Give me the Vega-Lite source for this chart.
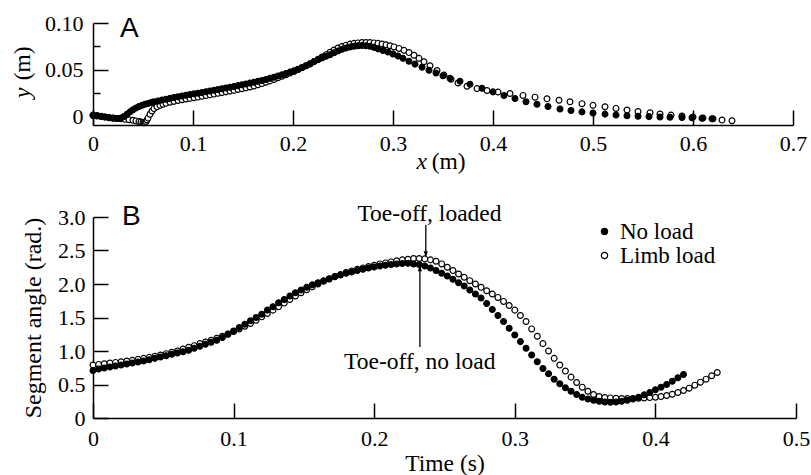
{
  "$schema": "https://vega.github.io/schema/vega-lite/v6.json",
  "padding": {"left": 11, "top": 12, "right": 5, "bottom": 0},
  "spacing": 28,
  "datasets": {
    "traj": [
      {"x":0.000,"y":0.0005,"load":"Limb load"},{"x":0.004,"y":0.0000,"load":"Limb load"},{"x":0.008,"y":-0.0005,"load":"Limb load"},{"x":0.012,"y":-0.0010,"load":"Limb load"},
      {"x":0.016,"y":-0.0015,"load":"Limb load"},{"x":0.020,"y":-0.0020,"load":"Limb load"},{"x":0.024,"y":-0.0025,"load":"Limb load"},{"x":0.028,"y":-0.0030,"load":"Limb load"},
      {"x":0.032,"y":-0.0035,"load":"Limb load"},{"x":0.036,"y":-0.0040,"load":"Limb load"},{"x":0.040,"y":-0.0046,"load":"Limb load"},{"x":0.043,"y":-0.0052,"load":"Limb load"},
      {"x":0.046,"y":-0.0058,"load":"Limb load"},{"x":0.048,"y":-0.0064,"load":"Limb load"},{"x":0.050,"y":-0.0070,"load":"Limb load"},{"x":0.051,"y":-0.0072,"load":"Limb load"},
      {"x":0.052,"y":-0.0068,"load":"Limb load"},{"x":0.053,"y":-0.0058,"load":"Limb load"},{"x":0.054,"y":-0.0042,"load":"Limb load"},{"x":0.055,"y":-0.0022,"load":"Limb load"},
      {"x":0.057,"y":0.0020,"load":"Limb load"},{"x":0.059,"y":0.0055,"load":"Limb load"},{"x":0.061,"y":0.0080,"load":"Limb load"},{"x":0.064,"y":0.0100,"load":"Limb load"},
      {"x":0.067,"y":0.0115,"load":"Limb load"},{"x":0.070,"y":0.0127,"load":"Limb load"},{"x":0.073,"y":0.0137,"load":"Limb load"},{"x":0.077,"y":0.0148,"load":"Limb load"},
      {"x":0.081,"y":0.0158,"load":"Limb load"},{"x":0.085,"y":0.0167,"load":"Limb load"},{"x":0.089,"y":0.0175,"load":"Limb load"},{"x":0.093,"y":0.0183,"load":"Limb load"},
      {"x":0.097,"y":0.0190,"load":"Limb load"},{"x":0.101,"y":0.0197,"load":"Limb load"},{"x":0.105,"y":0.0204,"load":"Limb load"},{"x":0.109,"y":0.0212,"load":"Limb load"},
      {"x":0.113,"y":0.0220,"load":"Limb load"},{"x":0.117,"y":0.0228,"load":"Limb load"},{"x":0.121,"y":0.0236,"load":"Limb load"},{"x":0.125,"y":0.0244,"load":"Limb load"},
      {"x":0.129,"y":0.0252,"load":"Limb load"},{"x":0.133,"y":0.0260,"load":"Limb load"},{"x":0.137,"y":0.0268,"load":"Limb load"},{"x":0.141,"y":0.0276,"load":"Limb load"},
      {"x":0.145,"y":0.0285,"load":"Limb load"},{"x":0.149,"y":0.0294,"load":"Limb load"},{"x":0.153,"y":0.0303,"load":"Limb load"},{"x":0.157,"y":0.0313,"load":"Limb load"},
      {"x":0.161,"y":0.0324,"load":"Limb load"},{"x":0.165,"y":0.0336,"load":"Limb load"},{"x":0.169,"y":0.0349,"load":"Limb load"},{"x":0.173,"y":0.0363,"load":"Limb load"},
      {"x":0.177,"y":0.0378,"load":"Limb load"},{"x":0.181,"y":0.0394,"load":"Limb load"},{"x":0.185,"y":0.0411,"load":"Limb load"},{"x":0.189,"y":0.0428,"load":"Limb load"},
      {"x":0.193,"y":0.0445,"load":"Limb load"},{"x":0.197,"y":0.0462,"load":"Limb load"},{"x":0.201,"y":0.0480,"load":"Limb load"},{"x":0.205,"y":0.0499,"load":"Limb load"},
      {"x":0.209,"y":0.0519,"load":"Limb load"},{"x":0.213,"y":0.0540,"load":"Limb load"},{"x":0.217,"y":0.0562,"load":"Limb load"},{"x":0.221,"y":0.0585,"load":"Limb load"},
      {"x":0.225,"y":0.0609,"load":"Limb load"},{"x":0.229,"y":0.0634,"load":"Limb load"},{"x":0.233,"y":0.0660,"load":"Limb load"},{"x":0.237,"y":0.0686,"load":"Limb load"},
      {"x":0.241,"y":0.0710,"load":"Limb load"},{"x":0.245,"y":0.0731,"load":"Limb load"},{"x":0.249,"y":0.0748,"load":"Limb load"},{"x":0.253,"y":0.0762,"load":"Limb load"},
      {"x":0.257,"y":0.0773,"load":"Limb load"},{"x":0.261,"y":0.0781,"load":"Limb load"},{"x":0.265,"y":0.0786,"load":"Limb load"},{"x":0.269,"y":0.0789,"load":"Limb load"},
      {"x":0.273,"y":0.0790,"load":"Limb load"},{"x":0.277,"y":0.0789,"load":"Limb load"},{"x":0.281,"y":0.0786,"load":"Limb load"},{"x":0.285,"y":0.0781,"load":"Limb load"},
      {"x":0.289,"y":0.0774,"load":"Limb load"},{"x":0.293,"y":0.0765,"load":"Limb load"},{"x":0.297,"y":0.0755,"load":"Limb load"},{"x":0.301,"y":0.0743,"load":"Limb load"},
      {"x":0.306,"y":0.0727,"load":"Limb load"},{"x":0.311,"y":0.0706,"load":"Limb load"},{"x":0.316,"y":0.0682,"load":"Limb load"},{"x":0.321,"y":0.0653,"load":"Limb load"},
      {"x":0.326,"y":0.0620,"load":"Limb load"},{"x":0.331,"y":0.0583,"load":"Limb load"},{"x":0.337,"y":0.0540,"load":"Limb load"},{"x":0.344,"y":0.0490,"load":"Limb load"},
      {"x":0.351,"y":0.0440,"load":"Limb load"},{"x":0.358,"y":0.0395,"load":"Limb load"},{"x":0.365,"y":0.0355,"load":"Limb load"},{"x":0.374,"y":0.0320,"load":"Limb load"},
      {"x":0.384,"y":0.0295,"load":"Limb load"},{"x":0.394,"y":0.0275,"load":"Limb load"},{"x":0.405,"y":0.0258,"load":"Limb load"},{"x":0.417,"y":0.0243,"load":"Limb load"},
      {"x":0.430,"y":0.0222,"load":"Limb load"},{"x":0.442,"y":0.0203,"load":"Limb load"},{"x":0.454,"y":0.0185,"load":"Limb load"},{"x":0.466,"y":0.0170,"load":"Limb load"},
      {"x":0.477,"y":0.0153,"load":"Limb load"},{"x":0.489,"y":0.0133,"load":"Limb load"},{"x":0.500,"y":0.0115,"load":"Limb load"},{"x":0.512,"y":0.0100,"load":"Limb load"},
      {"x":0.523,"y":0.0082,"load":"Limb load"},{"x":0.534,"y":0.0064,"load":"Limb load"},{"x":0.545,"y":0.0048,"load":"Limb load"},{"x":0.557,"y":0.0036,"load":"Limb load"},
      {"x":0.567,"y":0.0022,"load":"Limb load"},{"x":0.578,"y":0.0010,"load":"Limb load"},{"x":0.589,"y":0.0000,"load":"Limb load"},{"x":0.600,"y":-0.0010,"load":"Limb load"},
      {"x":0.610,"y":-0.0020,"load":"Limb load"},{"x":0.620,"y":-0.0030,"load":"Limb load"},{"x":0.629,"y":-0.0043,"load":"Limb load"},{"x":0.639,"y":-0.0050,"load":"Limb load"},
      {"x":0.000,"y":0.0010,"load":"No load"},{"x":0.004,"y":0.0005,"load":"No load"},{"x":0.008,"y":-0.0002,"load":"No load"},{"x":0.012,"y":-0.0010,"load":"No load"},
      {"x":0.016,"y":-0.0018,"load":"No load"},{"x":0.020,"y":-0.0024,"load":"No load"},{"x":0.024,"y":-0.0027,"load":"No load"},{"x":0.028,"y":-0.0020,"load":"No load"},
      {"x":0.031,"y":-0.0005,"load":"No load"},{"x":0.034,"y":0.0020,"load":"No load"},{"x":0.037,"y":0.0045,"load":"No load"},{"x":0.040,"y":0.0068,"load":"No load"},
      {"x":0.043,"y":0.0087,"load":"No load"},{"x":0.046,"y":0.0102,"load":"No load"},{"x":0.049,"y":0.0115,"load":"No load"},{"x":0.052,"y":0.0126,"load":"No load"},
      {"x":0.055,"y":0.0136,"load":"No load"},{"x":0.058,"y":0.0145,"load":"No load"},{"x":0.061,"y":0.0153,"load":"No load"},{"x":0.065,"y":0.0163,"load":"No load"},
      {"x":0.069,"y":0.0172,"load":"No load"},{"x":0.073,"y":0.0181,"load":"No load"},{"x":0.077,"y":0.0190,"load":"No load"},{"x":0.081,"y":0.0199,"load":"No load"},
      {"x":0.085,"y":0.0207,"load":"No load"},{"x":0.089,"y":0.0215,"load":"No load"},{"x":0.093,"y":0.0223,"load":"No load"},{"x":0.097,"y":0.0231,"load":"No load"},
      {"x":0.101,"y":0.0239,"load":"No load"},{"x":0.105,"y":0.0246,"load":"No load"},{"x":0.109,"y":0.0254,"load":"No load"},{"x":0.113,"y":0.0262,"load":"No load"},
      {"x":0.117,"y":0.0270,"load":"No load"},{"x":0.121,"y":0.0278,"load":"No load"},{"x":0.125,"y":0.0286,"load":"No load"},{"x":0.129,"y":0.0294,"load":"No load"},
      {"x":0.133,"y":0.0302,"load":"No load"},{"x":0.137,"y":0.0310,"load":"No load"},{"x":0.141,"y":0.0318,"load":"No load"},{"x":0.145,"y":0.0327,"load":"No load"},
      {"x":0.149,"y":0.0336,"load":"No load"},{"x":0.153,"y":0.0345,"load":"No load"},{"x":0.157,"y":0.0354,"load":"No load"},{"x":0.161,"y":0.0363,"load":"No load"},
      {"x":0.165,"y":0.0373,"load":"No load"},{"x":0.169,"y":0.0383,"load":"No load"},{"x":0.173,"y":0.0394,"load":"No load"},{"x":0.177,"y":0.0405,"load":"No load"},
      {"x":0.181,"y":0.0417,"load":"No load"},{"x":0.185,"y":0.0430,"load":"No load"},{"x":0.189,"y":0.0443,"load":"No load"},{"x":0.193,"y":0.0457,"load":"No load"},
      {"x":0.197,"y":0.0472,"load":"No load"},{"x":0.201,"y":0.0488,"load":"No load"},{"x":0.205,"y":0.0504,"load":"No load"},{"x":0.209,"y":0.0521,"load":"No load"},
      {"x":0.213,"y":0.0540,"load":"No load"},{"x":0.217,"y":0.0560,"load":"No load"},{"x":0.221,"y":0.0585,"load":"No load"},{"x":0.225,"y":0.0605,"load":"No load"},
      {"x":0.229,"y":0.0625,"load":"No load"},{"x":0.233,"y":0.0643,"load":"No load"},{"x":0.237,"y":0.0660,"load":"No load"},{"x":0.241,"y":0.0680,"load":"No load"},
      {"x":0.245,"y":0.0700,"load":"No load"},{"x":0.249,"y":0.0718,"load":"No load"},{"x":0.253,"y":0.0732,"load":"No load"},{"x":0.257,"y":0.0743,"load":"No load"},
      {"x":0.261,"y":0.0751,"load":"No load"},{"x":0.265,"y":0.0756,"load":"No load"},{"x":0.269,"y":0.0758,"load":"No load"},{"x":0.273,"y":0.0756,"load":"No load"},
      {"x":0.277,"y":0.0750,"load":"No load"},{"x":0.281,"y":0.0738,"load":"No load"},{"x":0.285,"y":0.0722,"load":"No load"},{"x":0.290,"y":0.0705,"load":"No load"},
      {"x":0.295,"y":0.0688,"load":"No load"},{"x":0.300,"y":0.0667,"load":"No load"},{"x":0.305,"y":0.0645,"load":"No load"},{"x":0.310,"y":0.0620,"load":"No load"},
      {"x":0.316,"y":0.0590,"load":"No load"},{"x":0.322,"y":0.0558,"load":"No load"},{"x":0.329,"y":0.0525,"load":"No load"},{"x":0.336,"y":0.0492,"load":"No load"},
      {"x":0.343,"y":0.0462,"load":"No load"},{"x":0.350,"y":0.0434,"load":"No load"},{"x":0.357,"y":0.0405,"load":"No load"},{"x":0.367,"y":0.0375,"load":"No load"},
      {"x":0.377,"y":0.0343,"load":"No load"},{"x":0.389,"y":0.0300,"load":"No load"},{"x":0.400,"y":0.0260,"load":"No load"},{"x":0.411,"y":0.0222,"load":"No load"},
      {"x":0.422,"y":0.0188,"load":"No load"},{"x":0.433,"y":0.0153,"load":"No load"},{"x":0.444,"y":0.0128,"load":"No load"},{"x":0.455,"y":0.0102,"load":"No load"},
      {"x":0.467,"y":0.0076,"load":"No load"},{"x":0.478,"y":0.0060,"load":"No load"},{"x":0.489,"y":0.0045,"load":"No load"},{"x":0.500,"y":0.0034,"load":"No load"},
      {"x":0.512,"y":0.0021,"load":"No load"},{"x":0.523,"y":0.0011,"load":"No load"},{"x":0.534,"y":0.0004,"load":"No load"},{"x":0.545,"y":-0.0002,"load":"No load"},
      {"x":0.556,"y":-0.0006,"load":"No load"},{"x":0.567,"y":-0.0009,"load":"No load"},{"x":0.577,"y":-0.0012,"load":"No load"},{"x":0.589,"y":-0.0015,"load":"No load"},
      {"x":0.599,"y":-0.0018,"load":"No load"},{"x":0.609,"y":-0.0024,"load":"No load"},{"x":0.619,"y":-0.0030,"load":"No load"}
    ],
    "angle": [
      {"t":0.000,"a":0.79,"load":"Limb load"},{"t":0.004,"a":0.80,"load":"Limb load"},{"t":0.008,"a":0.81,"load":"Limb load"},{"t":0.012,"a":0.82,"load":"Limb load"},
      {"t":0.016,"a":0.83,"load":"Limb load"},{"t":0.020,"a":0.84,"load":"Limb load"},{"t":0.024,"a":0.85,"load":"Limb load"},{"t":0.028,"a":0.86,"load":"Limb load"},
      {"t":0.032,"a":0.875,"load":"Limb load"},{"t":0.036,"a":0.89,"load":"Limb load"},{"t":0.040,"a":0.905,"load":"Limb load"},{"t":0.044,"a":0.92,"load":"Limb load"},
      {"t":0.048,"a":0.94,"load":"Limb load"},{"t":0.052,"a":0.96,"load":"Limb load"},{"t":0.056,"a":0.98,"load":"Limb load"},{"t":0.060,"a":1.00,"load":"Limb load"},
      {"t":0.064,"a":1.03,"load":"Limb load"},{"t":0.068,"a":1.055,"load":"Limb load"},{"t":0.072,"a":1.08,"load":"Limb load"},{"t":0.076,"a":1.11,"load":"Limb load"},
      {"t":0.080,"a":1.135,"load":"Limb load"},{"t":0.084,"a":1.16,"load":"Limb load"},{"t":0.088,"a":1.19,"load":"Limb load"},{"t":0.092,"a":1.22,"load":"Limb load"},
      {"t":0.096,"a":1.255,"load":"Limb load"},{"t":0.100,"a":1.29,"load":"Limb load"},{"t":0.104,"a":1.33,"load":"Limb load"},{"t":0.108,"a":1.37,"load":"Limb load"},
      {"t":0.112,"a":1.41,"load":"Limb load"},{"t":0.116,"a":1.46,"load":"Limb load"},{"t":0.120,"a":1.51,"load":"Limb load"},{"t":0.124,"a":1.56,"load":"Limb load"},
      {"t":0.128,"a":1.61,"load":"Limb load"},{"t":0.132,"a":1.66,"load":"Limb load"},{"t":0.136,"a":1.715,"load":"Limb load"},{"t":0.140,"a":1.77,"load":"Limb load"},
      {"t":0.144,"a":1.82,"load":"Limb load"},{"t":0.148,"a":1.87,"load":"Limb load"},{"t":0.152,"a":1.915,"load":"Limb load"},{"t":0.156,"a":1.96,"load":"Limb load"},
      {"t":0.160,"a":2.00,"load":"Limb load"},{"t":0.164,"a":2.04,"load":"Limb load"},{"t":0.168,"a":2.075,"load":"Limb load"},{"t":0.172,"a":2.11,"load":"Limb load"},
      {"t":0.176,"a":2.14,"load":"Limb load"},{"t":0.180,"a":2.17,"load":"Limb load"},{"t":0.184,"a":2.195,"load":"Limb load"},{"t":0.188,"a":2.22,"load":"Limb load"},
      {"t":0.192,"a":2.24,"load":"Limb load"},{"t":0.196,"a":2.26,"load":"Limb load"},{"t":0.200,"a":2.28,"load":"Limb load"},{"t":0.204,"a":2.30,"load":"Limb load"},
      {"t":0.208,"a":2.315,"load":"Limb load"},{"t":0.212,"a":2.33,"load":"Limb load"},{"t":0.216,"a":2.345,"load":"Limb load"},{"t":0.220,"a":2.36,"load":"Limb load"},
      {"t":0.224,"a":2.37,"load":"Limb load"},{"t":0.228,"a":2.38,"load":"Limb load"},{"t":0.232,"a":2.38,"load":"Limb load"},{"t":0.236,"a":2.375,"load":"Limb load"},
      {"t":0.240,"a":2.36,"load":"Limb load"},{"t":0.244,"a":2.34,"load":"Limb load"},{"t":0.248,"a":2.30,"load":"Limb load"},{"t":0.252,"a":2.25,"load":"Limb load"},
      {"t":0.256,"a":2.20,"load":"Limb load"},{"t":0.260,"a":2.15,"load":"Limb load"},{"t":0.264,"a":2.10,"load":"Limb load"},{"t":0.268,"a":2.05,"load":"Limb load"},
      {"t":0.272,"a":2.00,"load":"Limb load"},{"t":0.276,"a":1.95,"load":"Limb load"},{"t":0.280,"a":1.90,"load":"Limb load"},{"t":0.284,"a":1.85,"load":"Limb load"},
      {"t":0.288,"a":1.80,"load":"Limb load"},{"t":0.292,"a":1.74,"load":"Limb load"},{"t":0.296,"a":1.68,"load":"Limb load"},{"t":0.300,"a":1.61,"load":"Limb load"},
      {"t":0.304,"a":1.53,"load":"Limb load"},{"t":0.308,"a":1.44,"load":"Limb load"},{"t":0.312,"a":1.33,"load":"Limb load"},{"t":0.316,"a":1.22,"load":"Limb load"},
      {"t":0.320,"a":1.11,"load":"Limb load"},{"t":0.324,"a":1.00,"load":"Limb load"},{"t":0.328,"a":0.89,"load":"Limb load"},{"t":0.332,"a":0.79,"load":"Limb load"},
      {"t":0.336,"a":0.70,"load":"Limb load"},{"t":0.340,"a":0.61,"load":"Limb load"},{"t":0.344,"a":0.53,"load":"Limb load"},{"t":0.348,"a":0.46,"load":"Limb load"},
      {"t":0.352,"a":0.40,"load":"Limb load"},{"t":0.356,"a":0.35,"load":"Limb load"},{"t":0.360,"a":0.32,"load":"Limb load"},{"t":0.364,"a":0.305,"load":"Limb load"},
      {"t":0.368,"a":0.30,"load":"Limb load"},{"t":0.372,"a":0.295,"load":"Limb load"},{"t":0.376,"a":0.29,"load":"Limb load"},{"t":0.380,"a":0.29,"load":"Limb load"},
      {"t":0.384,"a":0.29,"load":"Limb load"},{"t":0.388,"a":0.295,"load":"Limb load"},{"t":0.392,"a":0.30,"load":"Limb load"},{"t":0.396,"a":0.305,"load":"Limb load"},
      {"t":0.400,"a":0.31,"load":"Limb load"},{"t":0.404,"a":0.32,"load":"Limb load"},{"t":0.408,"a":0.335,"load":"Limb load"},{"t":0.412,"a":0.355,"load":"Limb load"},
      {"t":0.416,"a":0.38,"load":"Limb load"},{"t":0.420,"a":0.41,"load":"Limb load"},{"t":0.424,"a":0.445,"load":"Limb load"},{"t":0.428,"a":0.49,"load":"Limb load"},
      {"t":0.432,"a":0.535,"load":"Limb load"},{"t":0.436,"a":0.58,"load":"Limb load"},{"t":0.440,"a":0.63,"load":"Limb load"},{"t":0.444,"a":0.68,"load":"Limb load"},
      {"t":0.000,"a":0.71,"load":"No load"},{"t":0.004,"a":0.73,"load":"No load"},{"t":0.008,"a":0.745,"load":"No load"},{"t":0.012,"a":0.76,"load":"No load"},
      {"t":0.016,"a":0.775,"load":"No load"},{"t":0.020,"a":0.79,"load":"No load"},{"t":0.024,"a":0.805,"load":"No load"},{"t":0.028,"a":0.82,"load":"No load"},
      {"t":0.032,"a":0.835,"load":"No load"},{"t":0.036,"a":0.85,"load":"No load"},{"t":0.040,"a":0.87,"load":"No load"},{"t":0.044,"a":0.89,"load":"No load"},
      {"t":0.048,"a":0.91,"load":"No load"},{"t":0.052,"a":0.93,"load":"No load"},{"t":0.056,"a":0.95,"load":"No load"},{"t":0.060,"a":0.97,"load":"No load"},
      {"t":0.064,"a":0.99,"load":"No load"},{"t":0.068,"a":1.01,"load":"No load"},{"t":0.072,"a":1.04,"load":"No load"},{"t":0.076,"a":1.07,"load":"No load"},
      {"t":0.080,"a":1.10,"load":"No load"},{"t":0.084,"a":1.13,"load":"No load"},{"t":0.088,"a":1.16,"load":"No load"},{"t":0.092,"a":1.20,"load":"No load"},
      {"t":0.096,"a":1.25,"load":"No load"},{"t":0.100,"a":1.30,"load":"No load"},{"t":0.104,"a":1.35,"load":"No load"},{"t":0.108,"a":1.40,"load":"No load"},
      {"t":0.112,"a":1.45,"load":"No load"},{"t":0.116,"a":1.50,"load":"No load"},{"t":0.120,"a":1.55,"load":"No load"},{"t":0.124,"a":1.61,"load":"No load"},
      {"t":0.128,"a":1.66,"load":"No load"},{"t":0.132,"a":1.72,"load":"No load"},{"t":0.136,"a":1.77,"load":"No load"},{"t":0.140,"a":1.82,"load":"No load"},
      {"t":0.144,"a":1.87,"load":"No load"},{"t":0.148,"a":1.91,"load":"No load"},{"t":0.152,"a":1.95,"load":"No load"},{"t":0.156,"a":1.99,"load":"No load"},
      {"t":0.160,"a":2.02,"load":"No load"},{"t":0.164,"a":2.05,"load":"No load"},{"t":0.168,"a":2.08,"load":"No load"},{"t":0.172,"a":2.11,"load":"No load"},
      {"t":0.176,"a":2.135,"load":"No load"},{"t":0.180,"a":2.16,"load":"No load"},{"t":0.184,"a":2.18,"load":"No load"},{"t":0.188,"a":2.20,"load":"No load"},
      {"t":0.192,"a":2.22,"load":"No load"},{"t":0.196,"a":2.24,"load":"No load"},{"t":0.200,"a":2.255,"load":"No load"},{"t":0.204,"a":2.27,"load":"No load"},
      {"t":0.208,"a":2.28,"load":"No load"},{"t":0.212,"a":2.29,"load":"No load"},{"t":0.216,"a":2.30,"load":"No load"},{"t":0.220,"a":2.305,"load":"No load"},
      {"t":0.224,"a":2.31,"load":"No load"},{"t":0.228,"a":2.30,"load":"No load"},{"t":0.232,"a":2.29,"load":"No load"},{"t":0.236,"a":2.27,"load":"No load"},
      {"t":0.240,"a":2.24,"load":"No load"},{"t":0.244,"a":2.20,"load":"No load"},{"t":0.248,"a":2.16,"load":"No load"},{"t":0.252,"a":2.12,"load":"No load"},
      {"t":0.256,"a":2.07,"load":"No load"},{"t":0.260,"a":2.02,"load":"No load"},{"t":0.264,"a":1.97,"load":"No load"},{"t":0.268,"a":1.91,"load":"No load"},
      {"t":0.272,"a":1.85,"load":"No load"},{"t":0.276,"a":1.79,"load":"No load"},{"t":0.280,"a":1.71,"load":"No load"},{"t":0.284,"a":1.62,"load":"No load"},
      {"t":0.288,"a":1.53,"load":"No load"},{"t":0.292,"a":1.44,"load":"No load"},{"t":0.296,"a":1.34,"load":"No load"},{"t":0.300,"a":1.24,"load":"No load"},
      {"t":0.304,"a":1.14,"load":"No load"},{"t":0.308,"a":1.04,"load":"No load"},{"t":0.312,"a":0.94,"load":"No load"},{"t":0.316,"a":0.84,"load":"No load"},
      {"t":0.320,"a":0.74,"load":"No load"},{"t":0.324,"a":0.66,"load":"No load"},{"t":0.328,"a":0.58,"load":"No load"},{"t":0.332,"a":0.51,"load":"No load"},
      {"t":0.336,"a":0.45,"load":"No load"},{"t":0.340,"a":0.40,"load":"No load"},{"t":0.344,"a":0.35,"load":"No load"},{"t":0.348,"a":0.31,"load":"No load"},
      {"t":0.352,"a":0.285,"load":"No load"},{"t":0.356,"a":0.265,"load":"No load"},{"t":0.360,"a":0.25,"load":"No load"},{"t":0.364,"a":0.24,"load":"No load"},
      {"t":0.368,"a":0.235,"load":"No load"},{"t":0.372,"a":0.24,"load":"No load"},{"t":0.376,"a":0.25,"load":"No load"},{"t":0.380,"a":0.265,"load":"No load"},
      {"t":0.384,"a":0.285,"load":"No load"},{"t":0.388,"a":0.31,"load":"No load"},{"t":0.392,"a":0.345,"load":"No load"},{"t":0.396,"a":0.38,"load":"No load"},
      {"t":0.400,"a":0.42,"load":"No load"},{"t":0.404,"a":0.46,"load":"No load"},{"t":0.408,"a":0.50,"load":"No load"},{"t":0.412,"a":0.55,"load":"No load"},
      {"t":0.416,"a":0.60,"load":"No load"},{"t":0.420,"a":0.65,"load":"No load"}
    ]
  },
  "vconcat": [
    {
      "width": 700,
      "height": 102,
      "resolve": {"axis": {"x": "independent", "y": "independent"}},
      "layer": [
        {
          "data": {"name": "traj"},
          "mark": {"type": "point", "filled": true, "stroke": "black", "strokeWidth": 1.2, "size": 34, "opacity": 1, "clip": false},
          "encoding": {
            "x": {
              "field": "x", "type": "quantitative",
              "scale": {"domain": [0, 0.7], "nice": false, "zero": false},
              "axis": {
                "orient": "bottom", "title": null, "domain": false, "offset": -15,
                "values": [0, 0.1, 0.2, 0.3, 0.4, 0.5, 0.6, 0.7],
                "tickSize": 15, "labelPadding": 8, "labelOverlap": false,
                "labelExpr": "datum.value == 0 ? '0' : format(datum.value, '.1f')"
              }
            },
            "y": {
              "field": "y", "type": "quantitative",
              "scale": {"domain": [-0.0096, 0.1], "nice": false, "zero": false},
              "axis": {
                "orient": "left", "title": null, "domain": false, "offset": -15,
                "values": [0, 0.05, 0.1],
                "tickSize": 15, "labelPadding": 10, "labelOverlap": false,
                "labelExpr": "datum.value == 0 ? '0' : datum.value == 0.05 ? '0.05' : '0.10'"
              }
            },
            "fill": {
              "field": "load", "type": "nominal",
              "scale": {"domain": ["No load", "Limb load"], "range": ["black", "white"]},
              "legend": null
            }
          }
        },
        {
          "data": {"values": [{"x": 0.027, "y": 0.0846, "label": "A"}]},
          "mark": {"type": "text", "font": "Liberation Sans", "fontSize": 28, "align": "left", "baseline": "alphabetic", "color": "black"},
          "encoding": {
            "x": {"field": "x", "type": "quantitative", "axis": {"orient": "bottom", "title": null, "domain": true, "ticks": false, "labels": false}},
            "y": {"field": "y", "type": "quantitative", "axis": {"orient": "left", "title": null, "domain": true, "ticks": false, "labels": false}},
            "text": {"field": "label"}
          }
        },
        {
          "data": {"values": [{"x": 0.334, "y": -0.0567, "label": "x"}]},
          "mark": {"type": "text", "font": "Liberation Serif", "fontSize": 23.5, "fontStyle": "italic", "align": "right", "baseline": "alphabetic", "color": "black", "clip": false},
          "encoding": {
            "x": {"field": "x", "type": "quantitative", "axis": null},
            "y": {"field": "y", "type": "quantitative", "axis": {"orient": "left", "title": null, "domain": false, "offset": -7, "values": [0.025, 0.075], "tickSize": 7, "labels": false}},
            "text": {"field": "label"}
          }
        },
        {
          "data": {"values": [{"x": 0.3387, "y": -0.0567, "label": "(m)"}]},
          "mark": {"type": "text", "font": "Liberation Serif", "fontSize": 23.5, "align": "left", "baseline": "alphabetic", "color": "black", "clip": false},
          "encoding": {
            "x": {"field": "x", "type": "quantitative", "axis": null},
            "y": {"field": "y", "type": "quantitative", "axis": null},
            "text": {"field": "label"}
          }
        },
        {
          "data": {"values": [{"x": -0.0697, "y": 0.0193, "label": "y"}]},
          "mark": {"type": "text", "font": "Liberation Serif", "fontSize": 23.5, "fontStyle": "italic", "angle": 270, "align": "left", "baseline": "middle", "color": "black", "clip": false},
          "encoding": {
            "x": {"field": "x", "type": "quantitative", "axis": null},
            "y": {"field": "y", "type": "quantitative", "axis": null},
            "text": {"field": "label"}
          }
        },
        {
          "data": {"values": [{"x": -0.0697, "y": 0.0385, "label": "(m)"}]},
          "mark": {"type": "text", "font": "Liberation Serif", "fontSize": 23.5, "angle": 270, "align": "left", "baseline": "middle", "color": "black", "clip": false},
          "encoding": {
            "x": {"field": "x", "type": "quantitative", "axis": null},
            "y": {"field": "y", "type": "quantitative", "axis": null},
            "text": {"field": "label"}
          }
        }
      ]
    },
    {
      "width": 703,
      "height": 201,
      "resolve": {"axis": {"x": "independent", "y": "independent"}},
      "layer": [
        {
          "data": {"name": "angle"},
          "mark": {"type": "point", "filled": true, "stroke": "black", "strokeWidth": 1.2, "size": 34, "opacity": 1, "clip": false},
          "encoding": {
            "x": {
              "field": "t", "type": "quantitative",
              "scale": {"domain": [0, 0.5], "nice": false, "zero": false},
              "axis": {
                "orient": "bottom", "title": "Time (s)", "titlePadding": 2,
                "domain": false, "offset": -15,
                "values": [0, 0.1, 0.2, 0.3, 0.4, 0.5],
                "tickSize": 15, "labelPadding": 10, "labelOverlap": false,
                "labelExpr": "datum.value == 0 ? '0' : format(datum.value, '.1f')"
              }
            },
            "y": {
              "field": "a", "type": "quantitative",
              "scale": {"domain": [0, 3], "nice": false, "zero": false},
              "axis": {
                "orient": "left", "title": "Segment angle (rad.)", "titlePadding": 12, "titleFontSize": 24,
                "domain": false, "offset": -15,
                "values": [0, 0.5, 1, 1.5, 2, 2.5, 3],
                "tickSize": 15, "labelPadding": 8, "labelOverlap": false,
                "labelExpr": "datum.value == 0 ? '0' : format(datum.value, '.1f')"
              }
            },
            "fill": {
              "field": "load", "type": "nominal",
              "scale": {"domain": ["No load", "Limb load"], "range": ["black", "white"]},
              "legend": {
                "title": null,
                "orient": "none",
                "legendX": 500,
                "legendY": 3,
                "symbolType": "circle",
                "symbolSize": 40,
                "symbolStrokeColor": "black",
                "symbolStrokeWidth": 1.2,
                "symbolOpacity": 1,
                "labelFont": "Liberation Serif",
                "labelFontSize": 23,
                "labelColor": "black",
                "labelOffset": 4,
                "rowPadding": 0,
                "padding": 0
              }
            }
          }
        },
        {
          "data": {"values": [{"t": 0.0206, "a": 2.876, "label": "B"}]},
          "mark": {"type": "text", "font": "Liberation Sans", "fontSize": 28, "align": "left", "baseline": "alphabetic", "color": "black"},
          "encoding": {
            "x": {"field": "t", "type": "quantitative", "axis": {"orient": "bottom", "title": null, "domain": true, "ticks": false, "labels": false}},
            "y": {"field": "a", "type": "quantitative", "axis": {"orient": "left", "title": null, "domain": true, "ticks": false, "labels": false}},
            "text": {"field": "label"}
          }
        },
        {
          "data": {"values": [
            {"t": 0.2393, "a": 2.94, "label": "Toe-off, loaded"},
            {"t": 0.2324, "a": 0.737, "label": "Toe-off, no load"}
          ]},
          "mark": {"type": "text", "font": "Liberation Serif", "fontSize": 23.5, "align": "center", "baseline": "alphabetic", "color": "black", "clip": false},
          "encoding": {
            "x": {"field": "t", "type": "quantitative", "axis": null},
            "y": {"field": "a", "type": "quantitative", "axis": null},
            "text": {"field": "label"}
          }
        },
        {
          "data": {"values": [
            {"t": 0.2367, "a": 2.88, "tip": 2.42},
            {"t": 0.2325, "a": 1.06, "tip": 2.26}
          ]},
          "mark": {"type": "rule", "color": "black", "strokeWidth": 1.3},
          "encoding": {
            "x": {"field": "t", "type": "quantitative", "axis": null},
            "y": {"field": "a", "type": "quantitative", "axis": null},
            "y2": {"field": "tip"}
          }
        },
        {
          "data": {"values": [{"t": 0.2367, "a": 2.40}]},
          "mark": {"type": "point", "shape": "M0,0L-0.35,-1L0.35,-1Z", "size": 144, "filled": true, "color": "black", "opacity": 1},
          "encoding": {
            "x": {"field": "t", "type": "quantitative", "axis": null},
            "y": {"field": "a", "type": "quantitative", "axis": null}
          }
        },
        {
          "data": {"values": [{"t": 0.2325, "a": 2.28}]},
          "mark": {"type": "point", "shape": "M0,0L-0.35,1L0.35,1Z", "size": 144, "filled": true, "color": "black", "opacity": 1},
          "encoding": {
            "x": {"field": "t", "type": "quantitative", "axis": null},
            "y": {"field": "a", "type": "quantitative", "axis": null}
          }
        }
      ]
    }
  ],
  "resolve": {"scale": {"fill": "independent"}, "legend": {"fill": "independent"}},
  "config": {
    "view": {"stroke": null},
    "font": "Liberation Serif",
    "legend": {"labelFont": "Liberation Serif"},
    "axis": {
      "grid": false,
      "domainColor": "black",
      "domainWidth": 1.5,
      "tickColor": "black",
      "tickWidth": 1.5,
      "labelColor": "black",
      "titleColor": "black",
      "labelFont": "Liberation Serif",
      "titleFont": "Liberation Serif",
      "labelFontSize": 22,
      "titleFontSize": 23.5,
      "titleFontWeight": "normal",
      "labelFlush": false,
      "labelOverlap": false
    }
  }
}
